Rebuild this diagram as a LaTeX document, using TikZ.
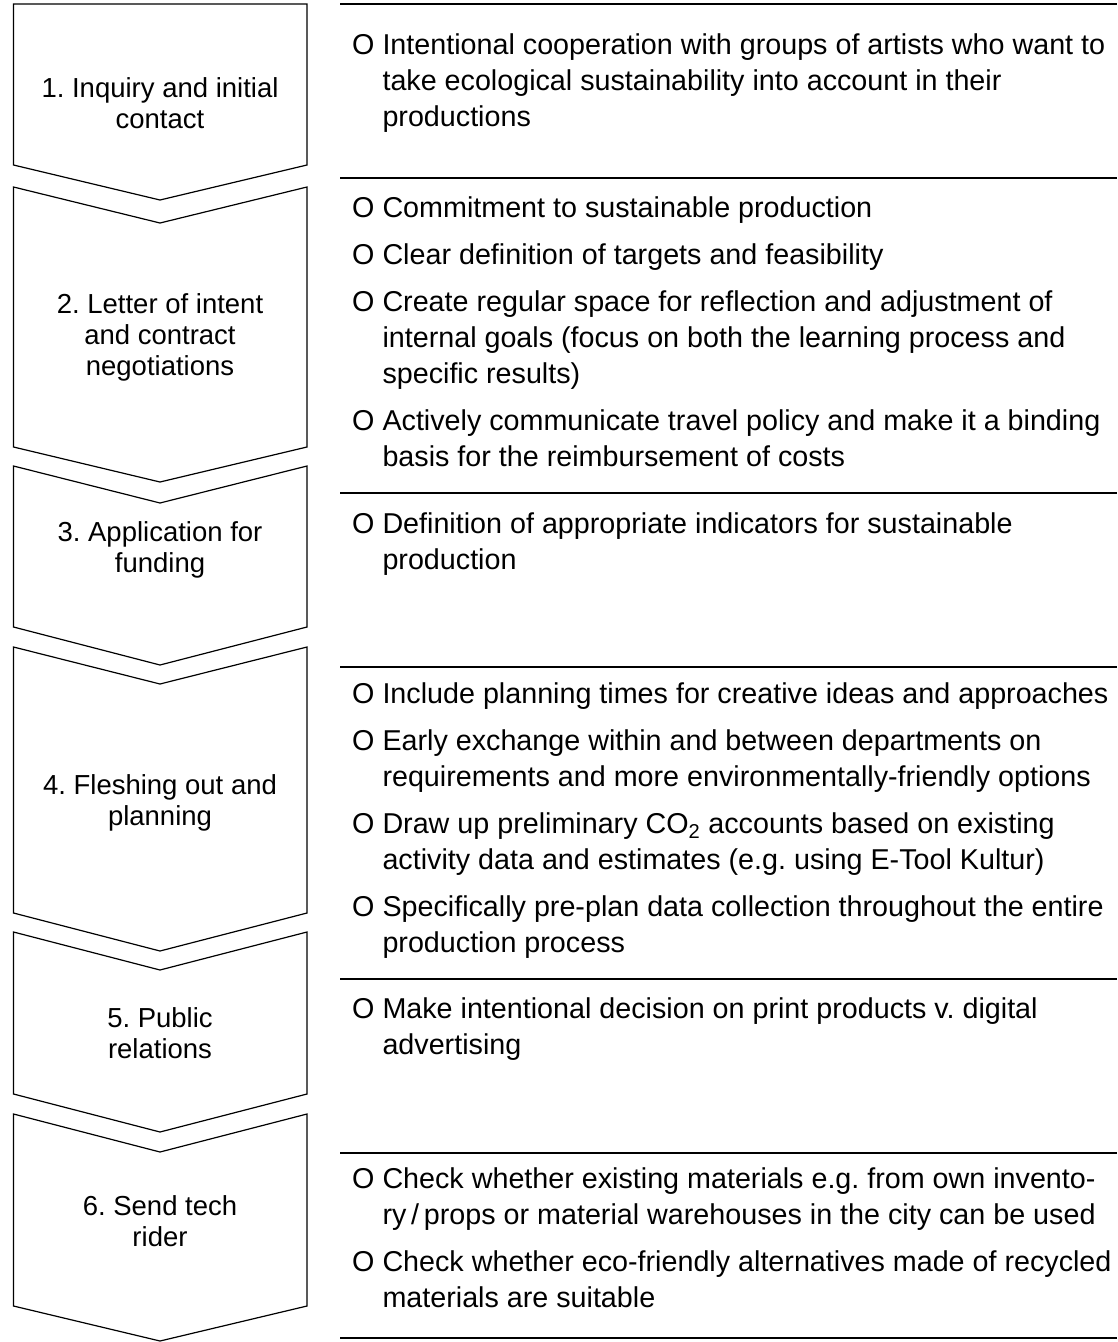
\documentclass[tikz,border=0pt]{standalone}
\usepackage{fontspec}
\setmainfont{Liberation Sans}
\frenchspacing
\begin{document}
\begin{tikzpicture}[x=1pt,y=-1pt,every node/.style={inner sep=0pt},
    chev/.style={draw,line width=1.2pt,line join=miter},
    rule/.style={draw,line width=1.4pt},
    steplabel/.style={anchor=base,font=\fontsize{27.5}{31}\selectfont},
    notes/.style={anchor=base west,font=\fontsize{28.7}{36}\selectfont}]
    \useasboundingbox (0,0) rectangle (1117,1342);
    % chevrons
    \draw[chev] (13.5,4) -- (307,4) -- (307,165) -- (160,200) -- (13.5,165) -- cycle;
    \draw[chev] (13.5,187) -- (160,223) -- (307,187) -- (307,447) -- (160,482) -- (13.5,447) -- cycle;
    \draw[chev] (13.5,466) -- (160,503) -- (307,466) -- (307,627) -- (160,665) -- (13.5,627) -- cycle;
    \draw[chev] (13.5,647) -- (160,684) -- (307,647) -- (307,913) -- (160,951) -- (13.5,913) -- cycle;
    \draw[chev] (13.5,932) -- (160,970) -- (307,932) -- (307,1094) -- (160,1132) -- (13.5,1094) -- cycle;
    \draw[chev] (13.5,1114) -- (160,1152) -- (307,1114) -- (307,1306) -- (160,1341) -- (13.5,1306) -- cycle;
    % rules
    \draw[rule] (340,4) -- (1117,4);
    \draw[rule] (340,178) -- (1117,178);
    \draw[rule] (340,493) -- (1117,493);
    \draw[rule] (340,667) -- (1117,667);
    \draw[rule] (340,979) -- (1117,979);
    \draw[rule] (340,1153) -- (1117,1153);
    \draw[rule] (340,1338) -- (1117,1338);
    % step names
    \node[steplabel] (step1) at (160,97) {\begin{tabular}[t]{@{}c@{}}1. Inquiry and initial\\contact\end{tabular}};
    \node[steplabel] (step2) at (160,313) {\begin{tabular}[t]{@{}c@{}}2. Letter of intent\\and contract\\negotiations\end{tabular}};
    \node[steplabel] (step3) at (160,541) {\begin{tabular}[t]{@{}c@{}}3. Application for\\funding\end{tabular}};
    \node[steplabel] (step4) at (160,794) {\begin{tabular}[t]{@{}c@{}}4. Fleshing out and\\planning\end{tabular}};
    \node[steplabel] (step5) at (160,1027) {\begin{tabular}[t]{@{}c@{}}5. Public\\relations\end{tabular}};
    \node[steplabel] (step6) at (160,1215) {\begin{tabular}[t]{@{}c@{}}6. Send tech\\rider\end{tabular}};
    % notes
    \node[notes] (notes1) at (352,54) {\begin{tabular}[t]{@{}l@{\hspace{8pt}}l@{}}
        O & Intentional cooperation with groups of artists who want to\\
          & take ecological sustainability into account in their\\
          & productions\end{tabular}};
    \node[notes] (notes2) at (352,217) {\begin{tabular}[t]{@{}l@{\hspace{8pt}}l@{}}
        O & Commitment to sustainable production\\[11pt]
        O & Clear definition of targets and feasibility\\[11pt]
        O & Create regular space for reflection and adjustment of\\
          & internal goals (focus on both the learning process and\\
          & specific results)\\[11pt]
        O & Actively communicate travel policy  and make it a binding\\
          & basis for the reimbursement of costs\end{tabular}};
    \node[notes] (notes3) at (352,533) {\begin{tabular}[t]{@{}l@{\hspace{8pt}}l@{}}
        O & Definition of appropriate indicators for sustainable\\
          & production\end{tabular}};
    \node[notes] (notes4) at (352,703) {\begin{tabular}[t]{@{}l@{\hspace{8pt}}l@{}}
        O & Include planning times for creative ideas and approaches\\[11pt]
        O & Early exchange within and between departments on\\
          & requirements and more environmentally-friendly options\\[11pt]
        O & Draw up preliminary CO\textsubscript{2} accounts based on existing\\
          & activity data and estimates (e.g. using E-Tool Kultur)\\[11pt]
        O & Specifically pre-plan data collection throughout the entire\\
          & production process\end{tabular}};
    \node[notes] (notes5) at (352,1018) {\begin{tabular}[t]{@{}l@{\hspace{8pt}}l@{}}
        O & Make intentional decision on print products v. digital\\
          & advertising\end{tabular}};
    \node[notes] (notes6) at (352,1188) {\begin{tabular}[t]{@{}l@{\hspace{8pt}}l@{}}
        O & Check whether existing materials e.g. from own invento-\\
          & ry\,/\,props or material warehouses in the city can be used\\[11pt]
        O & Check whether eco-friendly alternatives made of recycled\\
          & materials are suitable\end{tabular}};
\end{tikzpicture}
\end{document}
